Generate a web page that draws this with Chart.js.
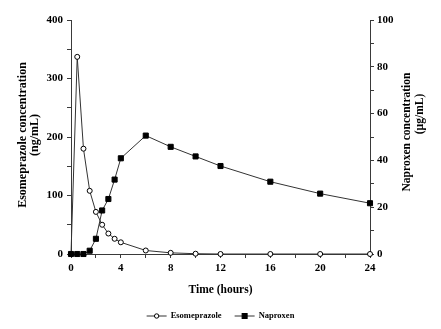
<!DOCTYPE html>
<html>
<head>
<meta charset="utf-8">
<script src="https://cdn.jsdelivr.net/npm/chart.js@4.4.1/dist/chart.umd.min.js"></script>
<style>
  html, body { margin: 0; padding: 0; background: #fff; }
  canvas { display: block; }
</style>
</head>
<body>
<canvas id="chart" width="441" height="329"></canvas>
<script>
// Sampling times (hours) and mean plasma concentrations
const hours = [0, 0.5, 1, 1.5, 2, 2.5, 3, 3.5, 4, 6, 8, 10, 12, 16, 20, 24];
const esomeprazole = [0, 337, 180, 108, 72, 50, 35, 26, 20, 6, 2, 0.5, 0, 0, 0, 0];   // ng/mL
const naproxen = [0, 0, 0, 1.4, 6.5, 18.6, 23.5, 31.8, 40.9, 50.6, 45.8, 41.7, 37.6, 30.9, 25.8, 21.7]; // µg/mL

const seriesNames = ['Esomeprazole', 'Naproxen'];
const xTitle = 'Time (hours)';
const leftTitle = ['Esomeprazole concentration', '(ng/mL)'];
const rightTitle = ['Naproxen concentration', '(µg/mL)'];

const FONT = '"Liberation Serif", "Times New Roman", serif';
const INK = '#000';
const AXIS = '#3a3a3a';

const toPoints = (ys) => hours.map((h, i) => ({ x: h, y: ys[i] }));

// Axis titles and the legend row
const annotations = {
  id: 'annotations',
  afterDraw(chart) {
    const ctx = chart.ctx;
    const area = chart.chartArea;
    ctx.save();
    ctx.fillStyle = INK;
    ctx.textAlign = 'center';
    ctx.textBaseline = 'middle';

    // x-axis title
    ctx.font = 'bold 11.5px ' + FONT;
    ctx.fillText(xTitle, (area.left + area.right) / 2, 290);

    // left y-axis title (reads bottom to top)
    ctx.font = 'bold 12px ' + FONT;
    ctx.save();
    ctx.translate(23, 135);
    ctx.rotate(-Math.PI / 2);
    ctx.fillText(leftTitle[0], 0, 0);
    ctx.fillText(leftTitle[1], 0, 12);
    ctx.restore();

    // right y-axis title (also reads bottom to top)
    ctx.font = 'bold 11.5px ' + FONT;
    ctx.save();
    ctx.translate(407, 132);
    ctx.rotate(-Math.PI / 2);
    ctx.fillText(rightTitle[0], 0, 0);
    ctx.fillText(rightTitle[1], 18, 13);
    ctx.restore();

    // legend
    ctx.font = 'bold 8.5px ' + FONT;
    const lineLen = 20, textGap = 4, itemGap = 13, ly = 316;
    const widths = seriesNames.map(n => ctx.measureText(n).width);
    const total = widths.reduce((s, w) => s + lineLen + textGap + w, 0) + itemGap * (seriesNames.length - 1);
    let x = (area.left + area.right) / 2 - total / 2;
    chart.data.datasets.forEach((ds, i) => {
      ctx.strokeStyle = ds.borderColor;
      ctx.lineWidth = 1;
      ctx.beginPath();
      ctx.moveTo(x, ly);
      ctx.lineTo(x + lineLen, ly);
      ctx.stroke();
      const cx = x + lineLen / 2;
      ctx.fillStyle = ds.pointBackgroundColor;
      ctx.strokeStyle = ds.pointBorderColor;
      if (ds.pointStyle === 'rect') {
        ctx.fillRect(cx - 2.5, ly - 2.5, 5, 5);
        ctx.strokeRect(cx - 2.5, ly - 2.5, 5, 5);
      } else {
        ctx.beginPath();
        ctx.arc(cx, ly, 2.2, 0, Math.PI * 2);
        ctx.fill();
        ctx.stroke();
      }
      ctx.fillStyle = INK;
      ctx.textAlign = 'left';
      ctx.fillText(ds.label, x + lineLen + textGap, ly);
      x += lineLen + textGap + widths[i] + itemGap;
    });
    ctx.restore();
  }
};

const tickFont = { family: FONT, size: 11, weight: 'bold' };

new Chart(document.getElementById('chart'), {
  type: 'line',
  data: {
    datasets: [
      {
        label: seriesNames[0],
        data: toPoints(esomeprazole),
        yAxisID: 'y',
        borderColor: '#333',
        borderWidth: 1,
        pointStyle: 'circle',
        pointRadius: 2.5,
        pointBackgroundColor: '#fff',
        pointBorderColor: '#000',
        pointBorderWidth: 1,
        tension: 0,
        clip: false,
        order: 2
      },
      {
        label: seriesNames[1],
        data: toPoints(naproxen),
        yAxisID: 'y1',
        borderColor: '#333',
        borderWidth: 1,
        pointStyle: 'rect',
        pointRadius: 3.6,
        pointBackgroundColor: '#000',
        pointBorderColor: '#000',
        pointBorderWidth: 1,
        tension: 0,
        clip: false,
        order: 1
      }
    ]
  },
  options: {
    responsive: false,
    animation: false,
    devicePixelRatio: 1,
    layout: { padding: { top: 20, left: 0, right: 0, bottom: 0 } },
    plugins: {
      legend: { display: false },
      tooltip: { enabled: false }
    },
    scales: {
      x: {
        type: 'linear',
        min: 0,
        max: 24,
        afterFit: (s) => { s.height = 75; },
        border: { color: AXIS, width: 1 },
        grid: { drawOnChartArea: false, drawTicks: true, tickLength: 4, color: AXIS },
        ticks: {
          stepSize: 2,
          autoSkip: false,
          maxRotation: 0,
          padding: 4,
          color: INK,
          font: tickFont,
          callback: (v) => (v % 4 === 0 ? String(v) : '')
        }
      },
      y: {
        position: 'left',
        min: 0,
        max: 400,
        afterFit: (s) => { s.width = 71; },
        border: { color: AXIS, width: 1 },
        grid: { drawOnChartArea: false, drawTicks: true, tickLength: 4, color: AXIS },
        ticks: {
          stepSize: 50,
          autoSkip: false,
          padding: 4,
          color: INK,
          font: tickFont,
          callback: (v) => (v % 100 === 0 ? String(v) : '')
        }
      },
      y1: {
        position: 'right',
        min: 0,
        max: 100,
        afterFit: (s) => { s.width = 71; },
        border: { color: AXIS, width: 1 },
        grid: { drawOnChartArea: false, drawTicks: true, tickLength: 4, color: AXIS },
        ticks: {
          stepSize: 10,
          autoSkip: false,
          padding: 3,
          color: INK,
          font: tickFont,
          callback: (v) => (v % 20 === 0 ? String(v) : '')
        }
      }
    }
  },
  plugins: [annotations]
});
</script>
</body>
</html>
